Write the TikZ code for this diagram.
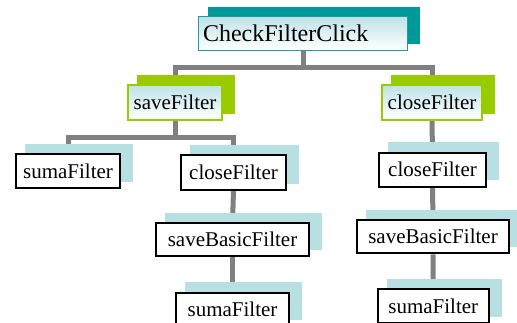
\documentclass[tikz,border=0pt]{standalone}
\usepackage{fontspec}
\setmainfont{LiberationSerif}[Extension=.ttf, UprightFont=*-Regular, BoldFont=*-Bold]
\usetikzlibrary{backgrounds}
\definecolor{tealdark}{HTML}{009999}
\definecolor{tealedge}{HTML}{1AA0A0}
\definecolor{limegreen}{HTML}{99CC00}
\definecolor{paleblue}{HTML}{B8DFE2}
\definecolor{shadefill}{HTML}{BEE2E6}
\definecolor{linkgray}{HTML}{808080}
\begin{document}
\begin{tikzpicture}[x=1pt,y=-1pt,
  box/.style={rectangle, inner sep=0pt, text=black, font=\fontsize{21}{25}\selectfont},
  rootbox/.style={box, draw=tealedge, line width=1.3pt, top color=shadefill, bottom color=white,
    minimum height=33.7pt, inner xsep=4.4pt, text width=199.9pt, align=left,
    font=\fontsize{24}{28}\selectfont},
  greenbox/.style={box, draw=limegreen, line width=1.5pt, top color=shadefill, bottom color=white,
    minimum height=35.3pt},
  plainbox/.style={box, draw=black, line width=2pt, fill=white, minimum height=34pt},
  link/.style={draw=linkgray, line width=5pt},
]
\useasboundingbox (0,0) rectangle (517,322);
\clip (0,0) rectangle (517,322);

% call tree boxes
\node[rootbox] (root) at (303,33.5) {CheckFilterClick};
\node[greenbox, minimum width=94pt] (save) at (175,102.5) {saveFilter};
\node[greenbox, minimum width=100pt] (closeA) at (432,102.5) {closeFilter};
\node[plainbox, minimum width=104pt] (sumaA) at (68,171.3) {sumaFilter};
\node[plainbox, minimum width=105.3pt, minimum height=35pt] (closeB) at (233.5,172.5) {closeFilter};
\node[plainbox, minimum width=152.3pt, minimum height=33pt] (basicB) at (232.5,239.8) {saveBasicFilter};
\node[plainbox, minimum width=112.3pt] (sumaB) at (232.5,309.7) {sumaFilter};
\node[plainbox, minimum width=106.4pt] (closeC) at (432.5,169.7) {closeFilter};
\node[plainbox, minimum width=152pt, minimum height=33pt] (basicC) at (433,236.8) {saveBasicFilter};
\node[plainbox, minimum width=111.3pt] (sumaC) at (433.3,306.3) {sumaFilter};

\coordinate (rootjoin) at (303,67);
\coordinate (savejoin) at (175,137);

\begin{scope}[on background layer]
  % connectors
  \draw[link] (root.south) -- (rootjoin);
  \draw[link] (save.north) |- (rootjoin) -| (closeA.north);
  \draw[link] (save.south) -- (savejoin);
  \draw[link] (sumaA.north) |- (savejoin) -| (closeB.north);
  \draw[link] (closeB.south) -- (basicB.north);
  \draw[link] (basicB.south) -- (sumaB.north);
  \draw[link] (closeA.south) -- (closeC.north);
  \draw[link] (basicC.north) -- (closeC.south);
  \draw[link] (basicC.south) -- (sumaC.north);
  % offset shadows behind the boxes
  \fill[tealdark] ([shift={(10pt,7.4pt)}]root.south west) rectangle ([shift={(11.6pt,9pt)}]root.north east);
  \foreach \n in {save,closeA}
    \fill[limegreen] ([shift={(10.2pt,7.2pt)}]\n.south west) rectangle ([shift={(11.8pt,8.8pt)}]\n.north east);
  \foreach \n in {sumaA,closeB,basicB,sumaB,closeC,basicC,sumaC}
    \fill[paleblue] ([shift={(10pt,7.5pt)}]\n.south west) rectangle ([shift={(12pt,9.5pt)}]\n.north east);
\end{scope}
\end{tikzpicture}
\end{document}
